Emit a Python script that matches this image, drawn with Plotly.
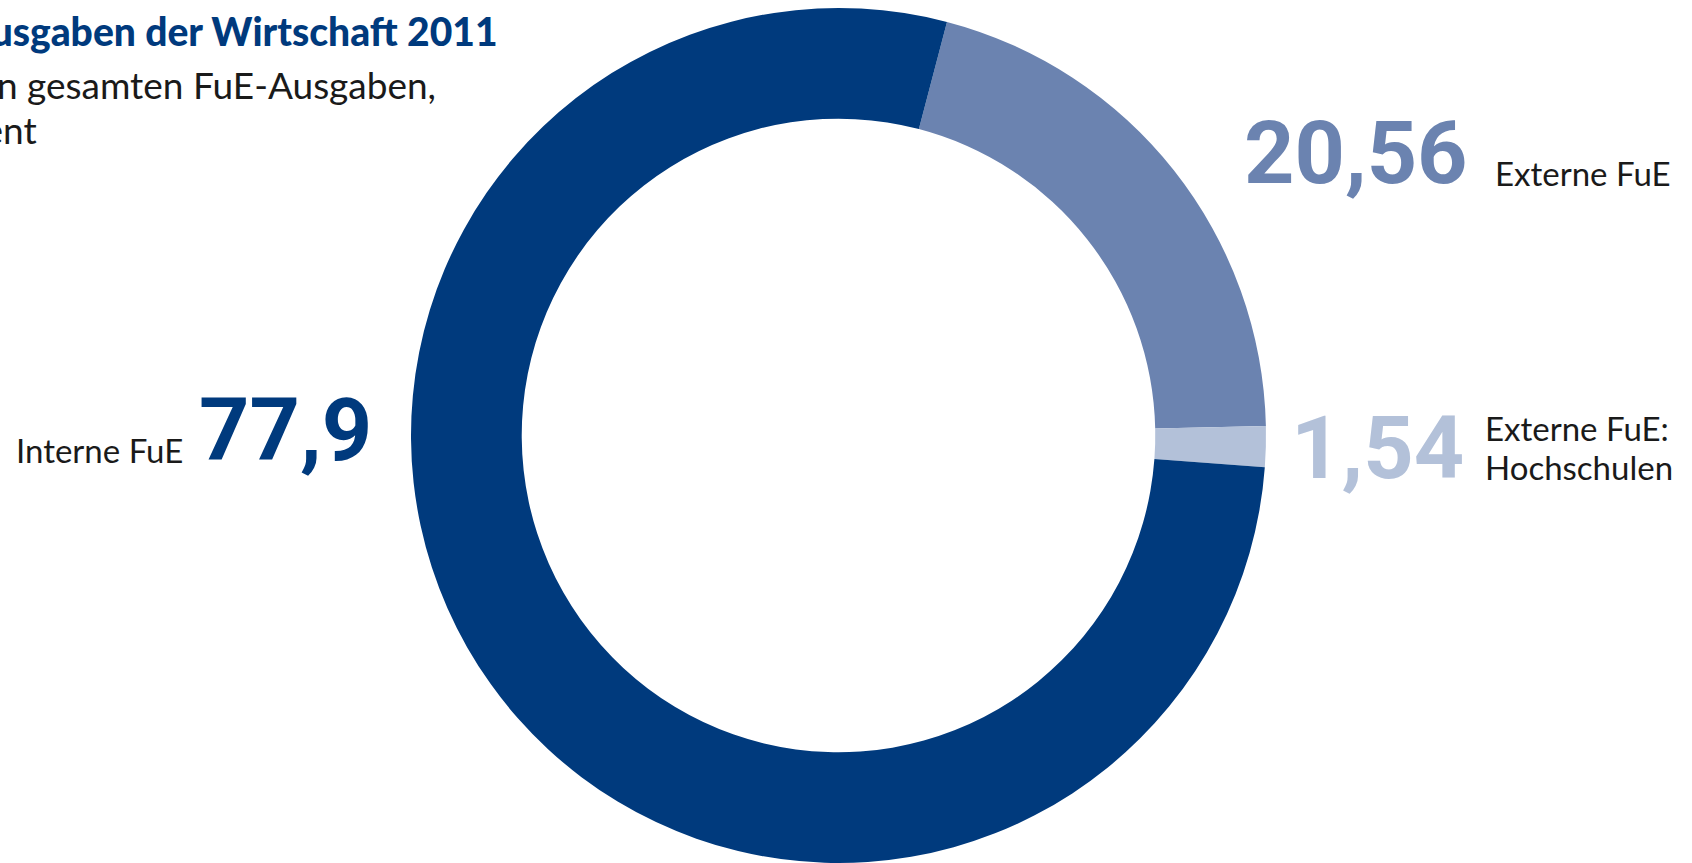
import plotly.graph_objects as go

# Shares of total business R&D spending, 2011 (percent)
categories = ["Externe FuE", "Externe FuE: Hochschulen", "Interne FuE"]
shares = [20.56, 1.54, 77.9]
value_labels = ["20,56", "1,54", "77,9"]
colors = ["#6B83B0", "#B3C1D9", "#003A7D"]

W, H = 1692, 863


def px(x):
    return x / W


def py(y):
    return 1 - y / H


fig = go.Figure(
    go.Pie(
        labels=categories,
        values=shares,
        hole=0.741,
        sort=False,
        direction="clockwise",
        rotation=14.7,
        marker=dict(colors=colors, line=dict(width=0)),
        textinfo="none",
        hoverinfo="label+value",
        domain=dict(x=[px(838.5 - 427.5), px(838.5 + 427.5)], y=[0, py(8)]),
    )
)

lab_font = dict(family="Lato", size=33, color="#1A1A1A")


def num_font(color):
    return dict(family="Roboto", size=88, weight=700, color=color)


annotations = [
    # title and subtitle, running off the left edge
    dict(x=px(500), y=py(31), xanchor="right", yanchor="middle",
         text="Interne und externe FuE-Ausgaben der Wirtschaft 2011",
         font=dict(family="Lato", size=39, weight=900, color="#003A7D")),
    dict(x=px(438), y=py(85), xanchor="right", yanchor="middle",
         text="Anteil an den gesamten FuE-Ausgaben,",
         font=dict(family="Lato", size=37, color="#1A1A1A")),
    dict(x=px(39), y=py(129), xanchor="right", yanchor="middle",
         text="in Prozent",
         font=dict(family="Lato", size=37, color="#1A1A1A")),
    # value labels with their category names
    dict(x=px(1470), y=py(152), xanchor="right", yanchor="middle",
         text=value_labels[0], font=num_font(colors[0])),
    dict(x=px(1493), y=py(173), xanchor="left", yanchor="middle",
         text=categories[0], font=lab_font),
    dict(x=px(1466), y=py(448), xanchor="right", yanchor="middle",
         text=value_labels[1], font=num_font(colors[1])),
    dict(x=px(1483), y=py(428), xanchor="left", yanchor="middle",
         text="Externe FuE:", font=lab_font),
    dict(x=px(1483), y=py(467), xanchor="left", yanchor="middle",
         text="Hochschulen", font=lab_font),
    dict(x=px(185), y=py(450), xanchor="right", yanchor="middle",
         text=categories[2], font=lab_font),
    dict(x=px(285), y=py(430), xanchor="center", yanchor="middle",
         text=value_labels[2], font=num_font(colors[2])),
]
for a in annotations:
    a.update(xref="paper", yref="paper", showarrow=False)

fig.update_layout(
    width=W, height=H,
    margin=dict(l=0, r=0, t=0, b=0),
    paper_bgcolor="white", plot_bgcolor="white",
    showlegend=False,
    annotations=annotations,
)

fig.write_html("out.html")
